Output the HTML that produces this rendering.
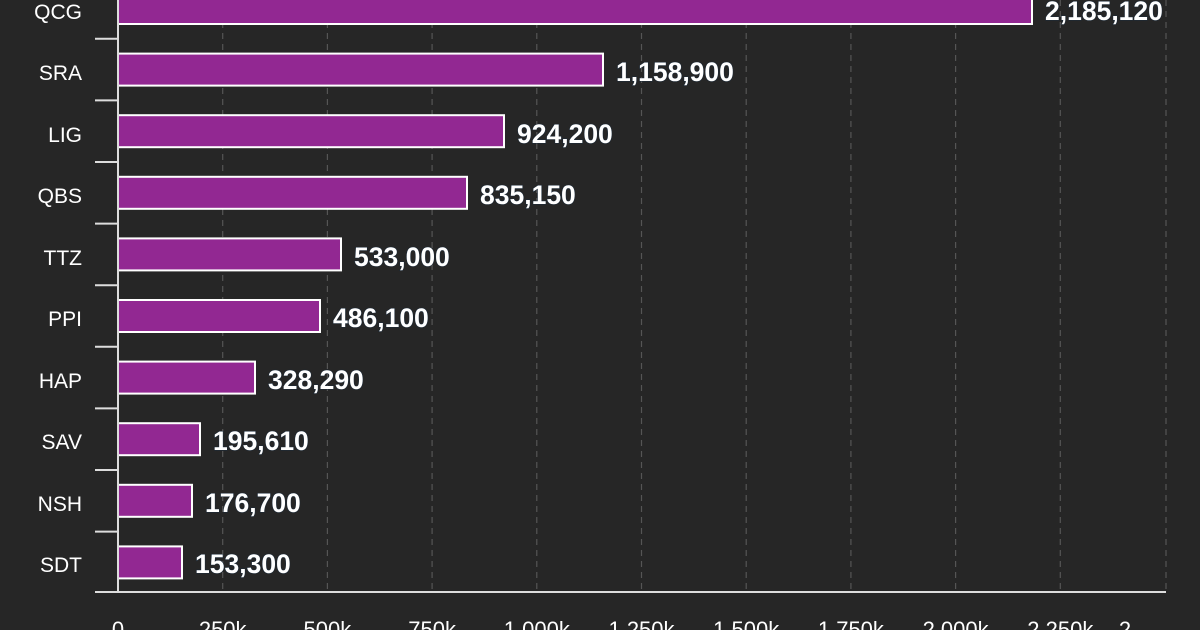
<!DOCTYPE html>
<html><head><style>
html,body{margin:0;padding:0;background:#262626;}
svg{display:block;}
.cat{font-family:"Liberation Sans",sans-serif;font-size:21px;fill:#fff;text-anchor:end;}
.val{font-family:"Liberation Sans",sans-serif;font-size:26.5px;font-weight:bold;fill:#fff;stroke:#1a2a3a;stroke-width:1px;paint-order:stroke;}
.tk{font-family:"Liberation Sans",sans-serif;font-size:22px;fill:#fff;text-anchor:middle;}
</style></head><body>
<svg width="1200" height="630" xmlns="http://www.w3.org/2000/svg">
<rect width="1200" height="630" fill="#262626"/>
<g stroke="#555" stroke-width="1.2" stroke-dasharray="6,5">
<line x1="222.7" y1="0" x2="222.7" y2="592"/>
<line x1="327.4" y1="0" x2="327.4" y2="592"/>
<line x1="432.1" y1="0" x2="432.1" y2="592"/>
<line x1="536.8" y1="0" x2="536.8" y2="592"/>
<line x1="641.5" y1="0" x2="641.5" y2="592"/>
<line x1="746.2" y1="0" x2="746.2" y2="592"/>
<line x1="850.9" y1="0" x2="850.9" y2="592"/>
<line x1="955.6" y1="0" x2="955.6" y2="592"/>
<line x1="1060.3" y1="0" x2="1060.3" y2="592"/>
<line x1="1166" y1="0" x2="1166" y2="592"/>
</g>
<g fill="#922892" stroke="#fff" stroke-width="2">
<rect x="118" y="-8" width="914" height="32"/>
<rect x="118" y="53.6" width="485" height="32"/>
<rect x="118" y="115.2" width="386" height="32"/>
<rect x="118" y="176.8" width="349" height="32"/>
<rect x="118" y="238.4" width="223" height="32"/>
<rect x="118" y="300" width="202" height="32"/>
<rect x="118" y="361.6" width="137" height="32"/>
<rect x="118" y="423.2" width="82" height="32"/>
<rect x="118" y="484.8" width="74" height="32"/>
<rect x="118" y="546.4" width="64" height="32"/>
</g>
<g stroke="#ddd" stroke-width="2">
<line x1="118" y1="0" x2="118" y2="593"/>
<line x1="118" y1="592" x2="1166" y2="592"/>
<line x1="95" y1="38.8" x2="118" y2="38.8"/>
<line x1="95" y1="100.4" x2="118" y2="100.4"/>
<line x1="95" y1="162" x2="118" y2="162"/>
<line x1="95" y1="223.6" x2="118" y2="223.6"/>
<line x1="95" y1="285.2" x2="118" y2="285.2"/>
<line x1="95" y1="346.8" x2="118" y2="346.8"/>
<line x1="95" y1="408.4" x2="118" y2="408.4"/>
<line x1="95" y1="470" x2="118" y2="470"/>
<line x1="95" y1="531.6" x2="118" y2="531.6"/>
<line x1="95" y1="592" x2="118" y2="592"/>
</g>
<g class="cat">
<text x="82" y="19">QCG</text>
<text x="82" y="80">SRA</text>
<text x="82" y="142">LIG</text>
<text x="82" y="203">QBS</text>
<text x="82" y="265">TTZ</text>
<text x="82" y="326">PPI</text>
<text x="82" y="388">HAP</text>
<text x="82" y="449">SAV</text>
<text x="82" y="511">NSH</text>
<text x="82" y="572">SDT</text>
</g>
<g class="val">
<text x="1045" y="20">2,185,120</text>
<text x="616" y="81">1,158,900</text>
<text x="517" y="143">924,200</text>
<text x="480" y="204">835,150</text>
<text x="354" y="266">533,000</text>
<text x="333" y="327">486,100</text>
<text x="268" y="389">328,290</text>
<text x="213" y="450">195,610</text>
<text x="205" y="512">176,700</text>
<text x="195" y="573">153,300</text>
</g>
<g class="tk">
<text x="118" y="637">0</text>
<text x="222.7" y="637">250k</text>
<text x="327.4" y="637">500k</text>
<text x="432.1" y="637">750k</text>
<text x="536.8" y="637">1,000k</text>
<text x="641.5" y="637">1,250k</text>
<text x="746.2" y="637">1,500k</text>
<text x="850.9" y="637">1,750k</text>
<text x="955.6" y="637">2,000k</text>
<text x="1060.3" y="637">2,250k</text>
<text x="1125" y="637">2</text>
</g>
</svg>
</body></html>
